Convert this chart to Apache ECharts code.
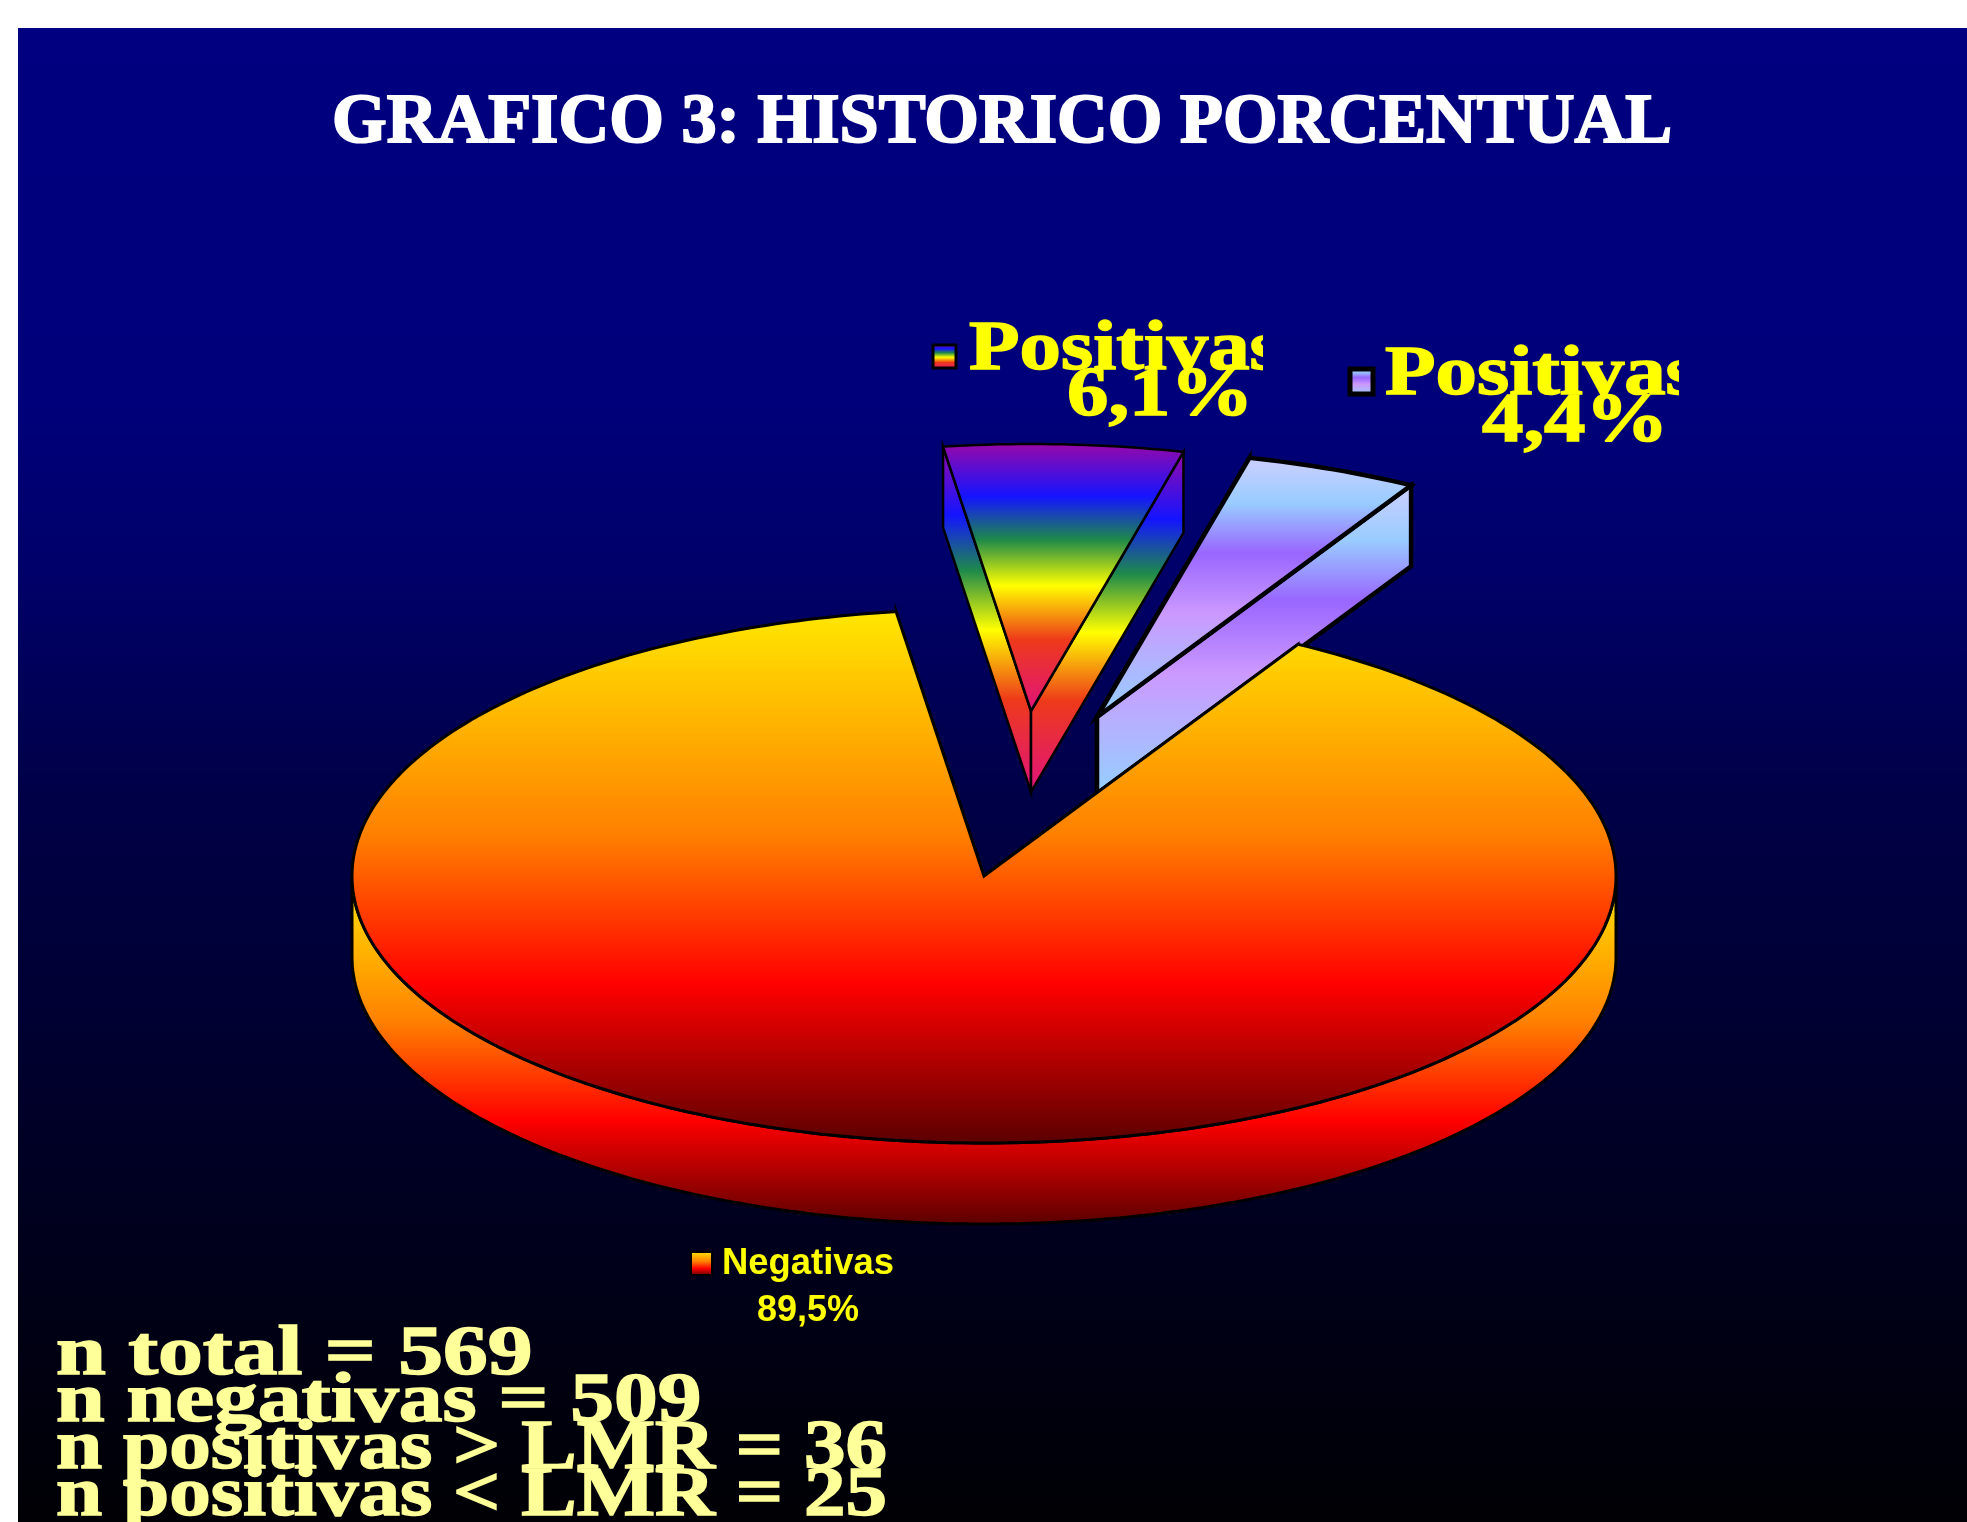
<!DOCTYPE html>
<html>
<head>
<meta charset="utf-8">
<title>Grafico 3</title>
<script src="https://cdn.jsdelivr.net/npm/echarts@6/dist/echarts.min.js"></script>
<style>
html, body { margin: 0; padding: 0; background: #fff; }
#chart { width: 1967px; height: 1522px; }
</style>
</head>
<body>
<div id="chart"></div>
<script>
// datos del grafico
const titleText = 'GRAFICO 3: HISTORICO PORCENTUAL';
const sliceNames = ['Negativas', 'Positivas', 'Positivas'];
const sliceValues = [89.5, 6.1, 4.4];
const statLabels = ['n total', 'n negativas', 'n positivas > LMR', 'n positivas < LMR'];
const statValues = [569, 509, 36, 25];

// geometria de la torta
const pieCx = 984;
const pieCy = 876;
const pieRx = 632;
const pieRy = 267;
const pieDepth = 81;
const firstAngle = 29.8;
const sliceOffsets = [[0, 0], [47, -165], [113, -159]];
const sliceBorders = [3, 2.5, 4.5];
const sliceStops = [
    [[0, '#ffe800'], [0.42, '#ff8000'], [0.7, '#ff0000'], [1, '#5a0000']],
    [[0, '#9a08a8'], [0.2, '#1414ff'], [0.36, '#1e8a4a'], [0.53, '#ffff00'], [0.73, '#ee3a1a'], [1, '#e0127e']],
    [[0, '#cfcfff'], [0.18, '#99ccff'], [0.37, '#9966ff'], [0.6, '#cc99ff'], [0.95, '#99ccff'], [1, '#a8ccff']]
];
const backgroundStops = [
    [0, '#000080'], [0.25, '#00007a'], [0.36, '#00006a'], [0.51, '#000048'],
    [0.64, '#000035'], [0.8, '#00001e'], [1, '#000004']
];

// cajas de las etiquetas: [x, y, tamano, escala horizontal]
const labelBoxes = [
    { marker: [691, 1252, 21, 23], markerLine: 2, name: [722, 1264, 36, 1.012], pct: [757, 1311, 36, 1], sans: true },
    { marker: [933, 345, 23, 23], markerLine: 3, name: [969, 351, 70, 1.183], pct: [1067, 397, 70, 1.183], clipTo: 1263 },
    { marker: [1350, 369, 23, 25], markerLine: 5, name: [1385, 376, 70, 1.183], pct: [1482, 423, 70, 1.183], clipTo: 1679 }
];
const statScales = [1.28, 1.25, 1.187, 1.187];

const serifFont = '"Liberation Serif"';
const sansFont = '"Liberation Sans"';

function gradient(stops) {
    return new echarts.graphic.LinearGradient(0, 0, 0, 1, stops.map(function (s) {
        return { offset: s[0], color: s[1] };
    }));
}

function ellipsePoint(deg, ox, oy) {
    const a = deg * Math.PI / 180;
    return [pieCx + ox + pieRx * Math.sin(a), pieCy + oy - pieRy * Math.cos(a)];
}

function drop(p) {
    return [p[0], p[1] + pieDepth];
}

function textEl(text, box, font, fill, z2, heavy) {
    return {
        type: 'text',
        x: box[0],
        y: box[1],
        scaleX: box[3],
        z2: z2,
        style: {
            x: 0,
            y: 0,
            text: text,
            font: font,
            fill: fill,
            stroke: heavy ? fill : null,
            lineWidth: heavy || 0,
            align: 'left',
            verticalAlign: 'middle'
        }
    };
}

function renderSlice(params, api) {
    const i = params.dataIndex;
    const value = api.value(0);
    const total = sliceValues.reduce(function (a, b) { return a + b; }, 0);
    let start = firstAngle;
    for (let k = 0; k < i; k++) {
        start += sliceValues[k] / total * 360;
    }
    const end = start + value / total * 360;
    const ox = sliceOffsets[i][0];
    const oy = sliceOffsets[i][1];
    const apex = [pieCx + ox, pieCy + oy];

    const rim = [];
    for (let d = start; d < end; d += 1) {
        rim.push(ellipsePoint(d, ox, oy));
    }
    rim.push(ellipsePoint(end, ox, oy));

    const fill = gradient(sliceStops[i]);
    const base = i === 0 ? 20 : 10;
    const line = { stroke: '#000', lineWidth: sliceBorders[i], lineJoin: 'miter' };
    const children = [];

    function face(points, z2) {
        children.push({
            type: 'polygon',
            z2: z2,
            shape: { points: points },
            style: Object.assign({ fill: fill }, line)
        });
    }

    // caras de corte
    const first = rim[0];
    const last = rim[rim.length - 1];
    face([apex, first, drop(first), drop(apex)], base);
    face([apex, last, drop(last), drop(apex)], base);

    // borde delantero, solo lo que mira hacia abajo
    const front = [];
    for (let d = Math.max(start, 90); d <= Math.min(end, 270); d += 1) {
        front.push(ellipsePoint(d, ox, oy));
    }
    if (front.length > 1) {
        face(front.concat(front.slice().reverse().map(drop)), base + 1);
    }

    // cara superior
    face([apex].concat(rim), base + 2);

    // etiqueta con su cuadrito
    const lb = labelBoxes[i];
    children.push({
        type: 'rect',
        z2: 30,
        shape: { x: lb.marker[0], y: lb.marker[1], width: lb.marker[2], height: lb.marker[3] },
        style: { fill: gradient(sliceStops[i]), stroke: '#000', lineWidth: lb.markerLine }
    });
    const font = lb.sans ? 'bold ' + lb.name[2] + 'px ' + sansFont : 'bold ' + lb.name[2] + 'px ' + serifFont;
    const heavy = lb.sans ? 0 : 1.5;
    const pctText = value.toFixed(1).replace('.', ',') + '%';
    const texts = [
        textEl(sliceNames[i], lb.name, font, '#ffff00', 31, heavy),
        textEl(pctText, lb.pct, font, '#ffff00', 31, heavy)
    ];
    if (lb.clipTo) {
        children.push({
            type: 'group',
            clipPath: {
                type: 'rect',
                shape: { x: lb.name[0] - 5, y: lb.name[1] - 60, width: lb.clipTo - lb.name[0] + 5, height: 180 }
            },
            children: [texts[0]]
        });
        children.push(texts[1]);
    } else {
        children.push(texts[0], texts[1]);
    }

    return { type: 'group', children: children };
}

const chart = echarts.init(document.getElementById('chart'), null, { renderer: 'canvas' });

const statElements = statLabels.map(function (label, i) {
    const el = textEl(label + ' = ' + statValues[i], [56, 1356 + i * 47, 70, statScales[i]],
        'bold 70px ' + serifFont, '#ffff99', 5, 1.5);
    el.z = 5;
    return el;
});

const titleElement = textEl(titleText, [332, 124, 70, 1.004], 'bold 70px ' + serifFont, '#ffffff', 5, 2);
titleElement.z = 5;

chart.setOption({
    animation: false,
    backgroundColor: '#ffffff',
    graphic: [
        {
            type: 'rect',
            z: 0,
            shape: { x: 18, y: 28, width: 1949, height: 1494 },
            style: { fill: gradient(backgroundStops) }
        },
        titleElement
    ].concat(statElements),
    series: [
        {
            type: 'custom',
            coordinateSystem: 'none',
            silent: true,
            renderItem: renderSlice,
            data: sliceValues.map(function (v) { return [v]; })
        }
    ]
});

window.addEventListener('resize', function () {
    chart.resize();
});
</script>
</body>
</html>
